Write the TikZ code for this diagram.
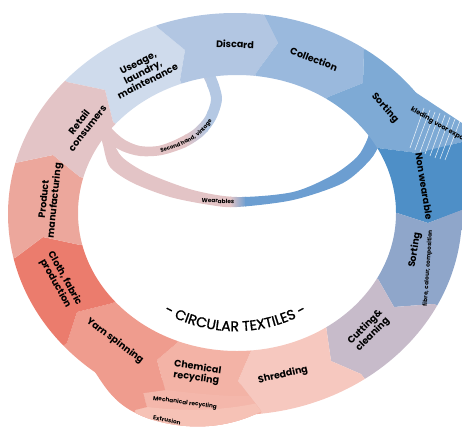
\documentclass[tikz,border=0pt]{standalone}
\usepackage{fontspec}
\setmainfont{Poppins}
\newfontfamily\titlefont[FakeBold=1.2]{Poppins}
\usepackage{tikz}
\usetikzlibrary{calc}
\usetikzlibrary{decorations.text}
\definecolor{myuse}{HTML}{CFDBEC}
\definecolor{mydiscard}{HTML}{B2C6E2}
\definecolor{mycollect}{HTML}{9AB9DD}
\definecolor{mysort}{HTML}{7EAAD5}
\definecolor{mynonwear}{HTML}{4E8FC7}
\definecolor{mysortb}{HTML}{8FA6CA}
\definecolor{mycut}{HTML}{C7BBCA}
\definecolor{myshred}{HTML}{F6C8BF}
\definecolor{mychem}{HTML}{F3B3A6}
\definecolor{mymech}{HTML}{F4B7AB}
\definecolor{myextru}{HTML}{F6C2B6}
\definecolor{myyarn}{HTML}{EF9C8E}
\definecolor{mycloth}{HTML}{EB7C6D}
\definecolor{myprod}{HTML}{ECA79C}
\definecolor{myretail}{HTML}{E3C4C6}
\definecolor{mywear}{HTML}{6C9ED1}
\definecolor{mysecond}{HTML}{B4C8E3}
\tikzset{
  lbl/.style={font=\bfseries\fontsize{9.5}{10.5}\selectfont, align=center, inner sep=0pt},
  sublbl/.style={font=\bfseries\fontsize{5.8}{6.3}\selectfont, inner sep=0pt}
}

\begin{document}
\begin{tikzpicture}[x=1pt,y=-1pt]
		\useasboundingbox (0,0) rectangle (462,428);
		\def\ring{(237,213) ellipse [x radius=159, y radius=138] (235,214) ellipse [x radius=227, y radius=201]}
		\def\extras{(95,372) .. controls (108,392) and (118,408) .. (150,419) .. controls (185,430) and (225,430) .. (262,411) -- (250,385) -- (160,380) -- cycle (415,92) -- (462,123) -- (480,130) -- (480,230) -- (440,230) -- cycle}
		\def\secondloop{plot[smooth] coordinates {(100,132) (108,142) (122,151) (140,156) (162,155) (186,147) (204,135) (216,119) (222,100) (219,85) (213,70)} -- plot[smooth] coordinates {(200,70) (207,85) (211,100) (205,117) (193,130) (175,140) (158,146) (140,146) (125,140) (113,130) (106,120)} -- cycle}
		\def\wearband{plot[smooth] coordinates {(99,128) (103,145) (110,167) (133,183) (170,197) (210,205) (237,207) (293,200) (343,183) (370,160) (380,143) (386,125)} -- plot[smooth] coordinates {(372,122) (367,140) (357,157) (333,175) (293,192) (237,197) (193,190) (147,173) (122,157) (113,140) (111,125)} -- cycle}
		
		% Segment borders: inner, tip, outer
		\coordinate (C) at (237,213);
		\coordinate (b1i) at (113,122); \coordinate (b1t) at (105,90); \coordinate (b1o) at (67,82);
		\coordinate (b2i) at (180,80); \coordinate (b2t) at (185,50); \coordinate (b2o) at (157,27);
		\coordinate (b3i) at (256,73); \coordinate (b3t) at (278,43); \coordinate (b3o) at (264,15);
		\coordinate (b4i) at (328,97); \coordinate (b4t) at (363,83); \coordinate (b4o) at (364,50);
		\coordinate (b5i) at (378,148); \coordinate (b5t) at (418,153); \coordinate (b5o) at (470,140);
		\coordinate (b6i) at (397,213); \coordinate (b6t) at (428,223); \coordinate (b6o) at (470,207);
		\coordinate (b7i) at (378,279); \coordinate (b7t) at (394,307); \coordinate (b7o) at (434,304);
		\coordinate (b8i) at (326,326); \coordinate (b8t) at (331,361); \coordinate (b8o) at (361,374);
		\coordinate (b9i) at (251,351); \coordinate (b9t) at (238,381); \coordinate (b9o) at (261,411);
		\coordinate (b10i) at (177,343); \coordinate (b10t) at (157,360); \coordinate (b10o) at (135,432);
		\coordinate (m1) at (165,390); \coordinate (m2) at (143,393);
		\coordinate (m3) at (147,407); \coordinate (m4) at (135,410);
		\coordinate (b11i) at (113,303); \coordinate (b11t) at (77,312); \coordinate (b11o) at (67,343);
		\coordinate (b12i) at (80,245); \coordinate (b12t) at (43,237); \coordinate (b12o) at (15,258);
		\coordinate (b13i) at (80,177); \coordinate (b13t) at (53,155); \coordinate (b13o) at (15,163);
		\foreach \b in {1,...,13}
			\coordinate (b\b f) at ($(C)!1.7!(b\b o)$);
		
		\def\segpath#1#2{(C) -- (b#1i) -- (b#1t) -- (b#1o) -- (b#1f) -- (b#2f) -- (b#2o) -- (b#2t) -- (b#2i) -- cycle}
		\def\paint#1#2{\begin{scope}\clip #1; \fill[#2, even odd rule] \ring; \fill[#2] \extras; \end{scope}}
		
		% Draw the inner loops
		\begin{scope}
			\clip \secondloop;
			\fill[myretail] (90,50) rectangle (186,170);
			\shade[left color=myretail, right color=mysecond] (185,50) rectangle (208,170);
			\fill[mysecond] (207,50) rectangle (240,170);
		\end{scope}
		\begin{scope}
			\clip \wearband;
			\fill[myretail] (90,110) rectangle (231,215);
			\shade[left color=myretail, right color=mywear] (230,110) rectangle (246,215);
			\fill[mywear] (245,110) rectangle (400,215);
		\end{scope}
		
		% Fill the segments
		\paint{\segpath{1}{2}}{myuse}
		\paint{\segpath{2}{3}}{mydiscard}
		\paint{\segpath{3}{4}}{mycollect}
		\paint{\segpath{4}{5}}{mysort}
		\paint{\segpath{5}{6}}{mynonwear}
		\paint{\segpath{6}{7}}{mysortb}
		\paint{\segpath{7}{8}}{mycut}
		\paint{\segpath{8}{9}}{myshred}
		\begin{scope}
			\clip (C) -- (b9i) -- (b9t) -- (b9o) -- (b9f) -- (b10f) -- (b10o) -- (m4) -- (m3) -- (m2) -- (m1) -- (b10t) -- (b10i) -- cycle;
			\fill[mychem, even odd rule] \ring;
			\fill[mychem] \extras;
			\begin{scope}
				\clip \extras;
				\fill[mymech] (m1) .. controls (200,394) and (230,397) .. (256,396) -- (300,440) -- (130,440) -- (m4) -- (m3) -- (m2) -- cycle;
				\fill[myextru] (m3) .. controls (190,412) and (225,410) .. (258,403) -- (300,440) -- (130,440) -- (m4) -- cycle;
			\end{scope}
		\end{scope}
		\paint{(C) -- (b10i) -- (b10t) -- (m1) -- (m2) -- (m3) -- (m4) -- (b10o) -- (b10f) -- (b11f) -- (b11o) -- (b11t) -- (b11i) -- cycle}{myyarn}
		\paint{\segpath{11}{12}}{mycloth}
		\paint{\segpath{12}{13}}{myprod}
		\paint{\segpath{13}{1}}{myretail}
		
		% Export hatching
		\draw[white, line width=0.6pt, opacity=0.8] (410,148) -- (424,108) (415,150) -- (430,110) (420,152) -- (435,112) (425,154) -- (440,113) (430,156) -- (445,115) (435,158) -- (450,117) (440,159) -- (455,119) (445,160) -- (460,121);
		
		% Label the segments
		\node[lbl, rotate=27] (useage) at (143,72) {Useage,\\laundry,\\maintenance};
		\node[lbl, rotate=-2] (discard) at (235,44) {Discard};
		\node[lbl, rotate=-21] (collection) at (314,59) {Collection};
		\node[lbl, rotate=-48] (sorting) at (385,108) {Sorting};
		\node[lbl, rotate=-81] (nonwear) at (424,186) {Non wearable};
		\node[lbl, rotate=81] (sortingb) at (415,250) {Sorting};
		\node[sublbl, rotate=86] (fibre) at (428,268) {fibre, colour, composition};
		\node[lbl, rotate=45] (cutting) at (369,331) {Cutting\&\\cleaning};
		\node[lbl, rotate=13] (shredding) at (283,375) {Shredding};
		\node[lbl, rotate=-8] (chemical) at (197,373) {Chemical\\recycling};
		\node[sublbl, rotate=-8] (mechanical) at (185,403) {Mechanical recycling};
		\node[sublbl, rotate=-10] (extrusion) at (167,420) {Extrusion};
		\node[lbl, rotate=-37] (yarn) at (115,341) {Yarn spinning};
		\node[lbl, rotate=-61] (cloth) at (60,281) {Cloth, fabric\\production};
		\node[lbl, rotate=84] (product) at (50,200) {Product\\manufacturing};
		\node[lbl, rotate=52] (retail) at (83,125) {Retail\\consumers};
		\node[sublbl, rotate=-3] (wearables) at (218,201) {Wearables};
		\node[sublbl, font=\bfseries\fontsize{6.6}{7}\selectfont, rotate=-30, anchor=west] (export) at (411,109) {kleding voor export};
		\path[decorate, decoration={text along path, text={|\bfseries\fontsize{5.5}{6}\selectfont|Second hand, vintage}, text align=center}] plot[smooth] coordinates {(140,153) (160,152.5) (182,145.5) (201,134) (213,119) (218,101)};
		
		% Title
		\path[decorate, decoration={text along path, text={|\titlefont\fontsize{14}{14}\selectfont|- CIRCULAR TEXTILES -}, text align=center}] (148,302) arc [start angle=127, end angle=53, radius=145];
	\end{tikzpicture}
\end{document}
